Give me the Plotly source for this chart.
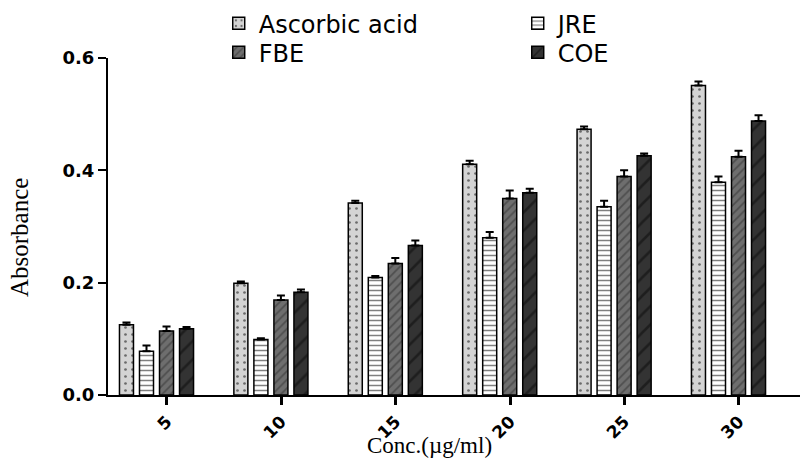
import plotly.graph_objects as go

categories = ["5", "10", "15", "20", "25", "30"]
series_names = ["Ascorbic acid", "JRE", "FBE", "COE"]

ascorbic = [0.125, 0.199, 0.342, 0.411, 0.473, 0.551]
jre = [0.078, 0.099, 0.209, 0.280, 0.335, 0.379]
fbe = [0.114, 0.169, 0.234, 0.350, 0.389, 0.424]
coe = [0.118, 0.183, 0.266, 0.360, 0.426, 0.488]

ascorbic_err = [0.004, 0.003, 0.004, 0.006, 0.005, 0.007]
jre_err = [0.010, 0.002, 0.003, 0.010, 0.011, 0.010]
fbe_err = [0.008, 0.008, 0.010, 0.014, 0.011, 0.011]
coe_err = [0.003, 0.005, 0.009, 0.007, 0.004, 0.010]

y_ticks = [0.0, 0.2, 0.4, 0.6]
y_tick_text = ["0.0", "0.2", "0.4", "0.6"]

values = [ascorbic, jre, fbe, coe]
errors = [ascorbic_err, jre_err, fbe_err, coe_err]
legend_rows = ["legend", "legend", "legend2", "legend2"]
styles = [
    dict(color="#d4d4d4", shape=".", fg="black", size=7, solidity=0.12),
    dict(color="white", shape="-", fg="black", size=5, solidity=0.3),
    dict(color="#6e6e6e", shape="/", fg="#2e2e2e", size=6, solidity=0.3),
    dict(color="#333333", shape="/", fg="#0a0a0a", size=13, solidity=0.2),
]

xs = list(range(len(categories)))

fig = go.Figure()
for name, vals, errs, st, lg in zip(series_names, values, errors, styles, legend_rows):
    fig.add_trace(go.Bar(
        name=name, x=xs, y=vals, legend=lg,
        marker=dict(
            color=st["color"],
            line=dict(color="black", width=1.5),
            pattern=dict(shape=st["shape"], fgcolor=st["fg"], size=st["size"],
                         solidity=st["solidity"]),
        ),
        error_y=dict(type="data", array=errs, arrayminus=[0] * len(errs),
                     symmetric=False, color="black", thickness=2, width=4),
    ))

legend_font = dict(family="DejaVu Sans", size=24, color="black")
tick_offset = 0.09
fig.update_layout(
    width=801, height=463,
    margin=dict(l=108, r=1, t=58, b=68, autoexpand=False),
    paper_bgcolor="white", plot_bgcolor="white",
    barmode="group", bargap=0.3, bargroupgap=0.3,
    showlegend=True,
    legend=dict(
        orientation="h", x=0.160, xanchor="left", y=1.169, yanchor="top",
        font=legend_font, entrywidth=254, entrywidthmode="pixels",
        traceorder="normal", bgcolor="rgba(0,0,0,0)",
    ),
    legend2=dict(
        orientation="h", x=0.160, xanchor="left", y=1.083, yanchor="top",
        font=legend_font, entrywidth=254, entrywidthmode="pixels",
        traceorder="normal", bgcolor="rgba(0,0,0,0)",
    ),
    xaxis=dict(
        range=[-0.424, 5.625], showgrid=False, zeroline=False,
        showline=True, linecolor="black", linewidth=2,
        tickmode="array", tickvals=[i + tick_offset for i in xs], ticktext=categories,
        ticks="outside", ticklen=8, tickwidth=3, tickcolor="black",
        tickangle=-45,
        tickfont=dict(family="DejaVu Sans", size=17, color="black", weight="bold"),
    ),
    yaxis=dict(
        range=[0, 0.6], showgrid=False, zeroline=False,
        showline=True, linecolor="black", linewidth=2,
        tickmode="array", tickvals=y_ticks, ticktext=y_tick_text,
        ticks="outside", ticklen=8, tickwidth=2, tickcolor="black",
        tickfont=dict(family="DejaVu Sans", size=18, color="black", weight="bold"),
    ),
    annotations=[
        dict(text="Conc.(µg/ml)", xref="paper", yref="paper", x=0.465, y=-0.15,
             xanchor="center", yanchor="middle", showarrow=False,
             font=dict(family="Liberation Serif", size=23, color="black")),
        dict(text="Absorbance", xref="paper", yref="paper", x=-0.127, y=0.466,
             xanchor="center", yanchor="middle", showarrow=False, textangle=-90,
             font=dict(family="Liberation Serif", size=25, color="black")),
    ],
)

fig.write_html("out.html")
